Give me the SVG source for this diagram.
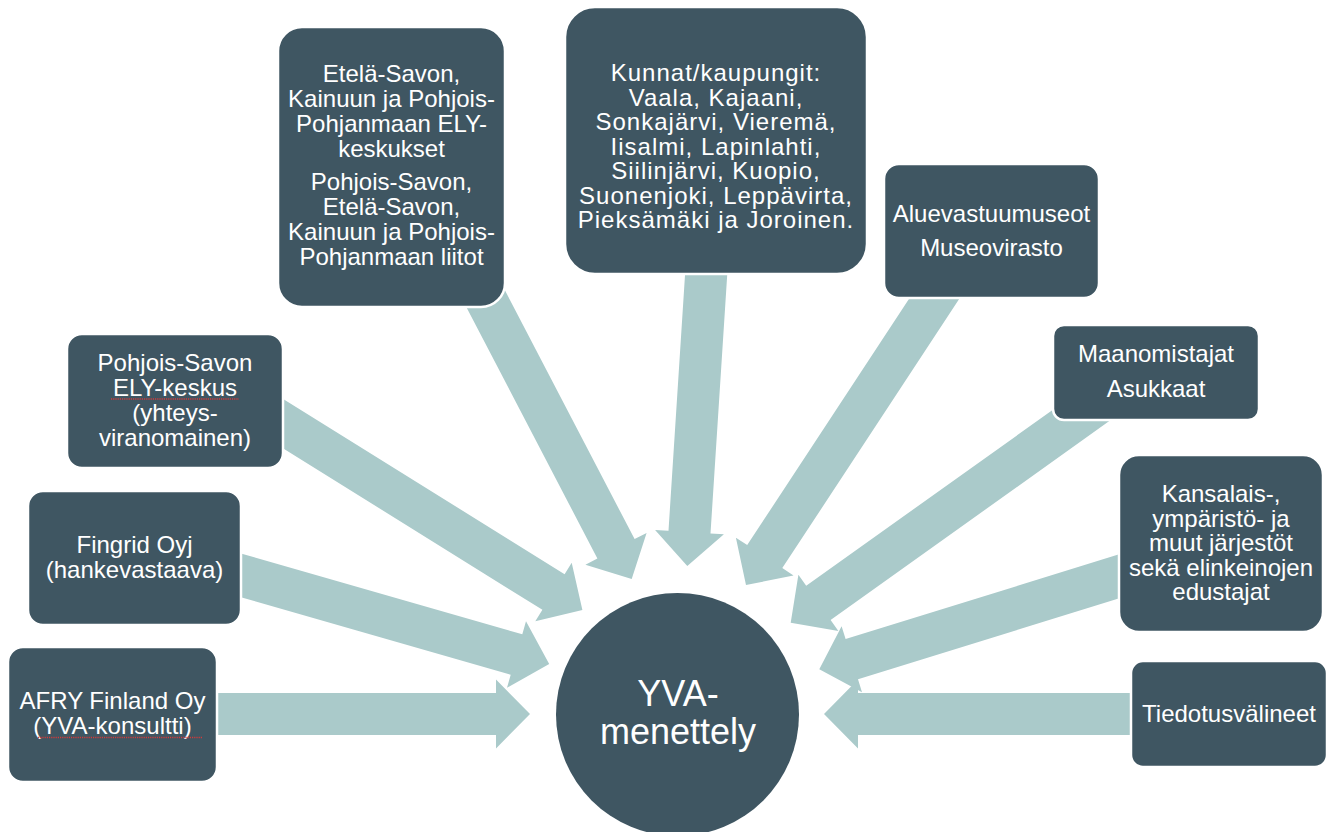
<svg xmlns="http://www.w3.org/2000/svg" width="1330" height="832" viewBox="0 0 1330 832">
<style>
.box{fill:#3f5662;stroke:#ffffff;stroke-width:2.5}
.arr{fill:#aacaca}
.t{font-family:"Liberation Sans",Arial,sans-serif;font-size:24px;fill:#ffffff;text-anchor:middle}
.wide{letter-spacing:1px}
.big{font-family:"Liberation Sans",Arial,sans-serif;font-size:36px;fill:#ffffff;text-anchor:middle}
.sq{stroke:#d23b3b;stroke-width:1.4;stroke-dasharray:1.2 1;fill:none}
</style>
<rect width="1330" height="832" fill="#ffffff"/>
<g id="connectors">
<polygon class="arr" points="205,693 496,693 496,679.5 530,714 496,748.5 496,735 205,735"/>
<polygon class="arr" points="222.2,591.9 510.7,674.7 507.0,687.7 549.2,663.9 526.0,621.3 522.3,634.3 233.8,551.5"/>
<polygon class="arr" points="248.9,427.1 542.4,609.8 535.3,621.3 582.4,610 571.7,562.7 564.6,574.2 271.1,391.5"/>
<polygon class="arr" points="459.9,294.7 597.4,558.5 585.4,564.7 631.7,579 646.6,532.9 634.6,539.1 497.1,275.3"/>
<polygon class="arr" points="686.4,253.6 668.5,530.7 655.1,529.9 687.3,566 723.9,534.3 710.5,533.5 728.4,256.4"/>
<polygon class="arr" points="930.3,266.5 747.2,545.1 735.9,537.7 746,585 793.5,575.6 782.3,568.1 965.4,289.5"/>
<polygon class="arr" points="1097.5,377.9 806.2,585.8 798.4,574.8 790.7,622.7 838.4,631.0 830.6,620.0 1121.9,412.1"/>
<polygon class="arr" points="1128.8,551.3 845.6,639.1 841.6,626.3 819.3,669.3 862.0,692.2 858.0,679.3 1141.2,591.5"/>
<polygon class="arr" points="1140,693 858,693 858,679.5 824,714 858,748.5 858,735 1140,735"/>
</g>
<g id="afry">
<rect class="box" x="8" y="647" width="209" height="135" rx="15"/>
<text class="t" x="112.5" y="709">AFRY Finland Oy</text>
<text class="t" x="112.5" y="734">(YVA-konsultti)</text>
<line class="sq" x1="38" y1="737.5" x2="202" y2="737.5"/>
</g>
<g id="fingrid">
<rect class="box" x="28" y="491" width="213" height="134" rx="15"/>
<text class="t" x="134.5" y="553">Fingrid Oyj</text>
<text class="t" x="134.5" y="578">(hankevastaava)</text>
</g>
<g id="ely">
<rect class="box" x="67" y="334" width="216" height="134" rx="15"/>
<text class="t" x="175" y="370.5">Pohjois-Savon</text>
<text class="t" x="175" y="395.5">ELY-keskus</text>
<line class="sq" x1="111" y1="399" x2="239" y2="399"/>
<text class="t" x="175" y="420.5">(yhteys-</text>
<text class="t" x="175" y="445.5">viranomainen)</text>
</g>
<g id="etela">
<rect class="box" x="278" y="27" width="227" height="280" rx="24"/>
<text class="t" x="391.5" y="82">Etelä-Savon,</text>
<text class="t" x="391.5" y="107">Kainuun ja Pohjois-</text>
<text class="t" x="391.5" y="132">Pohjanmaan ELY-</text>
<text class="t" x="391.5" y="157">keskukset</text>
<text class="t" x="391.5" y="190">Pohjois-Savon,</text>
<text class="t" x="391.5" y="215">Etelä-Savon,</text>
<text class="t" x="391.5" y="240">Kainuun ja Pohjois-</text>
<text class="t" x="391.5" y="265">Pohjanmaan liitot</text>
</g>
<g id="kunnat">
<rect class="box" x="565" y="7" width="302" height="267" rx="30"/>
<text class="t wide" x="716" y="81">Kunnat/kaupungit:</text>
<text class="t wide" x="716" y="105.5">Vaala, Kajaani,</text>
<text class="t wide" x="716" y="130">Sonkajärvi, Vieremä,</text>
<text class="t wide" x="716" y="154.5">Iisalmi, Lapinlahti,</text>
<text class="t wide" x="716" y="179">Siilinjärvi, Kuopio,</text>
<text class="t wide" x="716" y="203.5">Suonenjoki, Leppävirta,</text>
<text class="t wide" x="716" y="228">Pieksämäki ja Joroinen.</text>
</g>
<g id="museot">
<rect class="box" x="884" y="164" width="215" height="134" rx="15"/>
<text class="t" x="991.5" y="222">Aluevastuumuseot</text>
<text class="t" x="991.5" y="256">Museovirasto</text>
</g>
<g id="maanomistajat">
<rect class="box" x="1053" y="325" width="206" height="95" rx="11"/>
<text class="t" x="1156" y="362">Maanomistajat</text>
<text class="t" x="1156" y="397">Asukkaat</text>
</g>
<g id="kansalais">
<rect class="box" x="1119" y="455" width="204" height="177" rx="20"/>
<text class="t" x="1221" y="502">Kansalais-,</text>
<text class="t" x="1221" y="526.5">ympäristö- ja</text>
<text class="t" x="1221" y="551">muut järjestöt</text>
<text class="t" x="1221" y="575.5">sekä elinkeinojen</text>
<text class="t" x="1221" y="600">edustajat</text>
</g>
<g id="tiedotus">
<rect class="box" x="1131" y="661" width="196" height="106" rx="12"/>
<text class="t" x="1229" y="722">Tiedotusvälineet</text>
</g>
<g id="yva">
<circle cx="677.5" cy="714.5" r="121.5" fill="#3f5662"/>
<text class="big" x="678" y="706">YVA-</text>
<text class="big" x="678" y="744">menettely</text>
</g>
</svg>
